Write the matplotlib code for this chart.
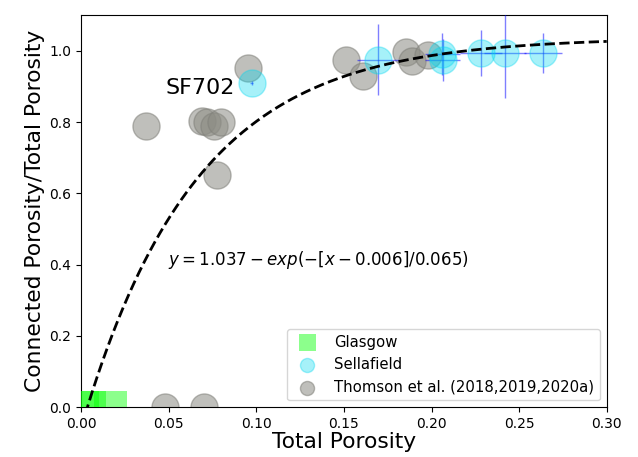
import numpy as np
import matplotlib
matplotlib.use('Agg')
import matplotlib.pyplot as plt

# Glasgow samples (all fully isolated porosity)
glasgow_x = [0.001, 0.0046, 0.017]
glasgow_y = [0.0, 0.0, 0.0]

# Sellafield samples with uncertainties
sf_x = [0.0973, 0.1696, 0.2061, 0.2065, 0.2283, 0.2419, 0.2636]
sf_y = [0.910, 0.975, 0.990, 0.975, 0.994, 0.994, 0.994]
sf_xerr = [0.001, 0.012, 0.010, 0.010, 0.012, 0.012, 0.011]
sf_yerr = [0.005, 0.100, 0.059, 0.059, 0.065, 0.128, 0.056]

# Thomson et al. (2018, 2019, 2020a)
th_x = [0.037, 0.069, 0.072, 0.076, 0.080, 0.0774, 0.095, 0.151, 0.161,
        0.1855, 0.189, 0.198, 0.048, 0.070]
th_y = [0.790, 0.803, 0.800, 0.790, 0.800, 0.652, 0.952, 0.975, 0.930,
        0.997, 0.970, 0.989, 0.0, 0.0]

# fitted curve parameters
a, x0, b = 1.037, 0.006, 0.065

fig = plt.figure(figsize=(6.38, 4.57), dpi=100)
ax = fig.add_axes([0.127, 0.109, 0.824, 0.858])

ax.scatter(glasgow_x, glasgow_y, marker='s', s=560, color='lime', alpha=0.45,
           edgecolors='none', label='Glasgow', zorder=3, clip_on=True)
ax.errorbar(sf_x, sf_y, xerr=sf_xerr, yerr=sf_yerr, fmt='none', ecolor='blue',
            alpha=0.5, elinewidth=1, zorder=4)
ax.scatter(sf_x, sf_y, s=380, color='#00d8f0', alpha=0.35, edgecolors='#00d8f0',
           label='Sellafield', zorder=5)
ax.scatter(th_x, th_y, s=380, color='#8c8c84', alpha=0.55, edgecolors='#80807a',
           label='Thomson et al. (2018,2019,2020a)', zorder=2)

xf = np.linspace(0, 0.3, 300)
ax.plot(xf, a - np.exp(-(xf - x0) / b), 'k--', lw=2, zorder=6)

ax.text(0.0495, 0.40, r'$y = 1.037 - exp(-[x - 0.006]/0.065)$', fontsize=12)
ax.text(0.088, 0.895, 'SF702', fontsize=16, ha='right', va='center')

ax.set_xlim(0, 0.3)
ax.set_ylim(0, 1.1)
ax.set_xticks(np.arange(0, 0.31, 0.05))
ax.set_yticks(np.arange(0, 1.01, 0.2))
ax.tick_params(labelsize=10)
ax.set_xlabel('Total Porosity', fontsize=15.7, labelpad=1)
ax.set_ylabel('Connected Porosity/Total Porosity', fontsize=15.7, labelpad=3)
ax.legend(loc='lower right', fontsize=10.7, markerscale=0.52,
          borderaxespad=0.45)

fig.savefig('out.png', dpi=100)
